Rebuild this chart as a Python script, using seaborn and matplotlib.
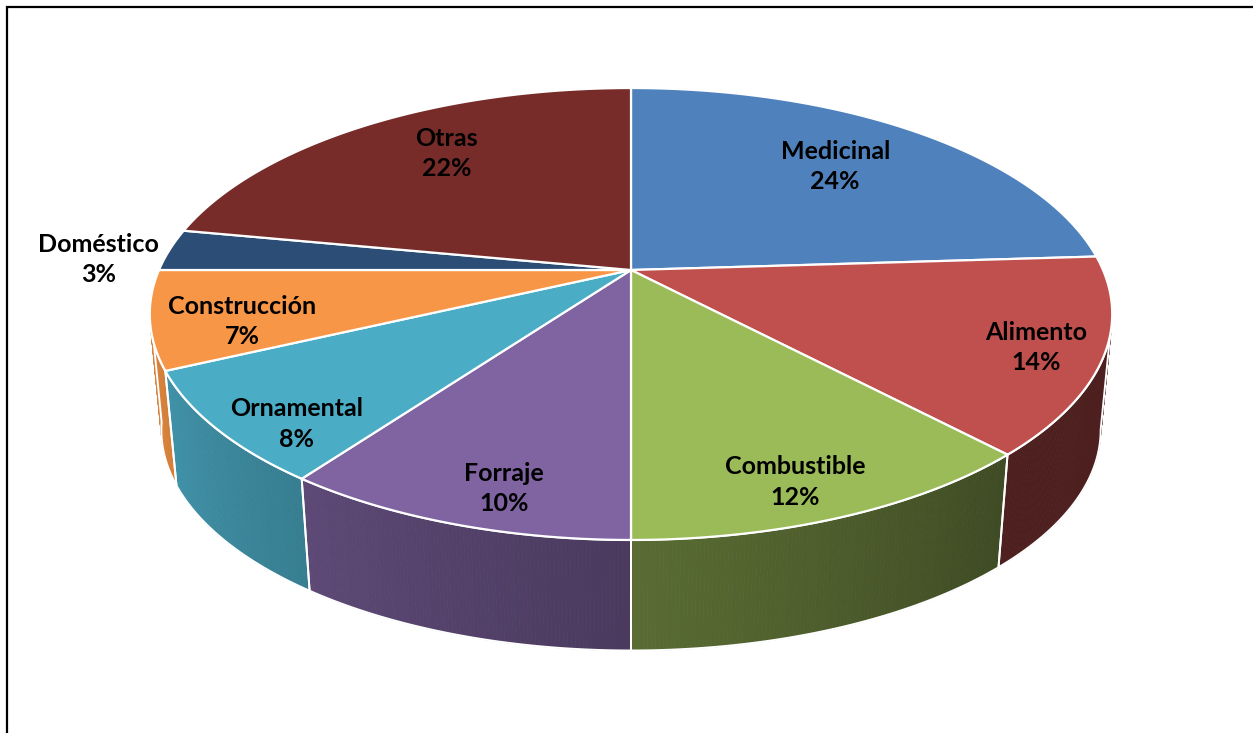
import numpy as np
import matplotlib
matplotlib.use("Agg")
import matplotlib.pyplot as plt
import matplotlib.colors as mcolors
from matplotlib.patches import Polygon, Rectangle
import seaborn as sns

# Usos de las especies (porcentaje)
categorias = ["Medicinal", "Alimento", "Combustible", "Forraje",
              "Ornamental", "Construcción", "Doméstico", "Otras"]
porcentajes = [24, 14, 12, 10, 8, 7, 3, 22]
colores = ["#4F81BD", "#C0504D", "#9BBB59", "#8064A2",
           "#4BACC6", "#F79646", "#2C4D75", "#772C2A"]
# label placement: radius fraction and angular nudge (degrees) from mid-slice
radio_etiqueta = [0.71, 0.87, 0.87, 0.87, 0.88, 0.82, 1.14, 0.74]
giro_etiqueta = [-1.0, 1.0, 2.0, -3.0, -5.4, -3.5, -3.0, 3.5]

sns.set_theme(style="white")
plt.rcParams["font.family"] = ["Lato", "DejaVu Sans"]

W, H = 1253, 733
fig = plt.figure(figsize=(W / 100, H / 100), dpi=100)
ax = fig.add_axes([0, 0, 1, 1])
ax.set_xlim(0, W)
ax.set_ylim(H, 0)
ax.axis("off")

# projection of the tilted disc (perspective seen from the front, above)
CX, CY = 631.0, 270.0
A, B, K = 472.0, 217.4, 0.1947
SB, DZ = 0.976, 117.0


def top_pt(theta, r=1.0):
    t = np.radians(theta)
    x, y = r * np.sin(t), r * np.cos(t)
    w = 1 + K * y
    return CX + A * x / w, CY - B * y / w


def bot_pt(theta):
    t = np.radians(theta)
    x, y = np.sin(t), np.cos(t)
    w = 1 + K * y
    return CX + A * SB * x / w, CY + DZ - B * SB * y / w


def shade(theta):
    return 0.40 + 0.47 * np.clip((theta - 137.0) / 113.0, 0, 1)


vals = np.asarray(porcentajes, dtype=float)
frac = vals / vals.sum()
ends = np.cumsum(frac) * 360.0
starts = ends - frac * 360.0

# visible front band of the side wall
lim = np.degrees(np.arccos(-K))
vis_lo, vis_hi = lim, 360.0 - lim + 2.0

# side walls with horizontal gradient
for s, e, col in zip(starts, ends, colores):
    a0, a1 = max(s, vis_lo), min(e, vis_hi)
    if a1 <= a0:
        continue
    base = np.array(mcolors.to_rgb(col))
    n = max(int((a1 - a0) / 0.4), 2)
    angs = np.linspace(a0, a1, n + 1)
    for t0, t1 in zip(angs[:-1], angs[1:]):
        c = base * shade(0.5 * (t0 + t1))
        quad = [top_pt(t0), top_pt(t1), bot_pt(t1), bot_pt(t0)]
        ax.add_patch(Polygon(quad, closed=True, facecolor=c, edgecolor=c,
                             lw=0.6, zorder=1))
    arc = np.linspace(a0, a1, 200)
    outline = [top_pt(t) for t in arc] + [bot_pt(t) for t in arc[::-1]]
    ax.add_patch(Polygon(outline, closed=True, fill=False,
                         edgecolor="white", lw=1.4, zorder=2))

# top faces
for s, e, col in zip(starts, ends, colores):
    arc = np.linspace(s, e, 300)
    pts = [(CX, CY)] + [top_pt(t) for t in arc]
    ax.add_patch(Polygon(pts, closed=True, facecolor=col,
                         edgecolor="white", lw=1.6, zorder=3,
                         joinstyle="round"))

# labels
for s, e, nom, v, r, g in zip(starts, ends, categorias, porcentajes,
                              radio_etiqueta, giro_etiqueta):
    lx, ly = top_pt(0.5 * (s + e) + g, r)
    ax.text(lx, ly, f"{nom}\n{v}%", ha="center", va="center",
            fontsize=18, fontweight="bold", color="black",
            linespacing=1.38, zorder=5)

# chart frame
fig.patches.append(Rectangle((7 / W, -0.05), 1.2, 1 - 7 / H + 0.05,
                             transform=fig.transFigure, fill=False,
                             edgecolor="black", lw=1.6))

fig.savefig("out.png", dpi=100, facecolor="white")
